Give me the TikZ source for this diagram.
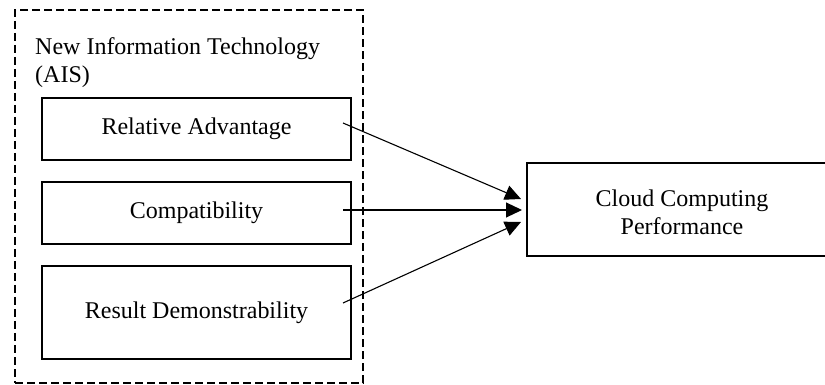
\documentclass[tikz,border=0pt]{standalone}
\usepackage{fontspec}
\setmainfont{Liberation Serif}
\usetikzlibrary{arrows.meta}
\begin{document}
\begin{tikzpicture}[x=1pt,y=-1pt,
  every node/.style={font=\fontsize{24}{28}\selectfont},
  boxa/.style={draw,line width=1.8pt,minimum width=309pt,align=center,inner sep=0pt},
  conn/.style={line width=1.1pt,-{Triangle[length=16pt,width=15pt]}}]
\useasboundingbox (0,0) rectangle (825,385);
\node[draw,dashed,line width=1.5pt,dash pattern=on 8pt off 4pt,minimum width=348pt,minimum height=373pt,inner sep=0pt] (grp) at (189,196.5) {};
\node[anchor=north west,align=left,inner sep=0pt] (title) at (35,37) {New Information Technology\\(AIS)};
\node[boxa,minimum height=62pt] (ra) at (196.5,129) {Relative Advantage};
\node[boxa,minimum height=62pt] (ca) at (196.5,213) {Compatibility};
\node[boxa,minimum height=93pt] (rd) at (196.5,312.5) {Result Demonstrability};
\node[draw,line width=1.8pt,minimum width=308pt,minimum height=93pt,inner sep=0pt] (cc) at (681,209.5) {};
\node[align=center,inner sep=0pt] (cct) at (682,212) {Cloud Computing\\Performance};
\coordinate (s1) at (343,123);
\coordinate (s2) at (343,210);
\coordinate (s3) at (343,303);
\coordinate (t1) at (521,199);
\coordinate (t2) at (522,210);
\coordinate (t3) at (521,222);
\draw[conn] (s1) -- (t1);
\draw[conn] (s2) -- (t2);
\draw[conn] (s3) -- (t3);
\end{tikzpicture}
\end{document}
